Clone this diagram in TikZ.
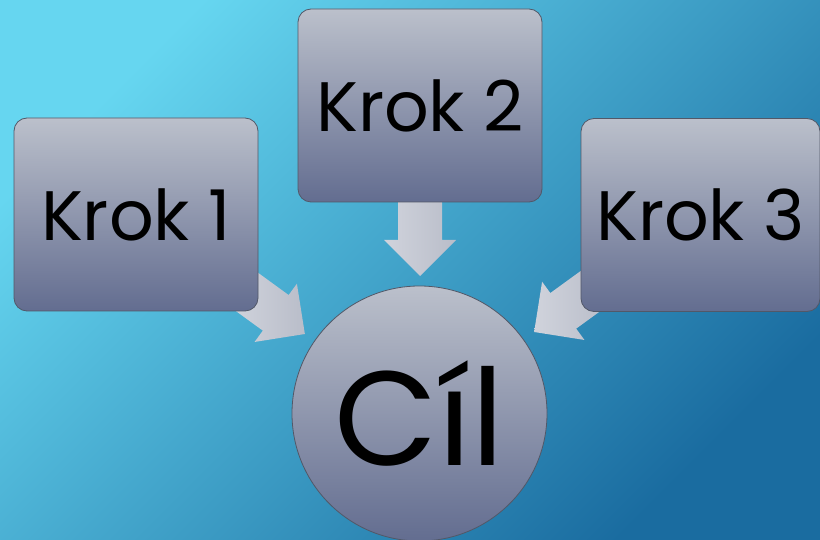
\documentclass[tikz,border=0pt]{standalone}
\usepackage{fontspec}
\setmainfont{Poppins}
\definecolor{bgA}{HTML}{66D6F0}
\definecolor{bgB}{HTML}{1A6CA0}
\definecolor{boxTop}{HTML}{BBC0CB}
\definecolor{boxBot}{HTML}{636D90}
\definecolor{boxLine}{HTML}{525868}
\definecolor{arrA}{HTML}{D0D3DC}
\definecolor{arrB}{HTML}{B9BDC9}
\tikzset{
  stepbox/.style={draw=boxLine, line width=0.8pt, rounded corners=13pt,
    top color=boxTop, bottom color=boxBot, minimum width=244pt, minimum height=193pt,
    inner sep=0pt, font=\fontsize{70}{70}\selectfont, text=black},
  goalnode/.style={circle, draw=boxLine, line width=0.8pt,
    top color=boxTop, bottom color=boxBot, minimum size=255pt, inner sep=0pt,
    font=\fontsize{134}{134}\selectfont, text=black},
  blockarrow/.style={fill=arrA, draw=none}
}
\newcommand\blockarr[3]{%
  \shade[left color=arrA, right color=arrB, shift={(#1)}, rotate=#2]
    (0,-22) -- (#3-36,-22) -- (#3-36,-36) -- (#3,0) -- (#3-36,36) -- (#3-36,22) -- (0,22) -- cycle;}
\begin{document}
\begin{tikzpicture}[x=1pt,y=1pt]
\useasboundingbox (0,0) rectangle (820,539);
\clip (0,0) rectangle (820,539);
\shade[top color=bgA, bottom color=bgB, shading angle=45] (0,0) rectangle (820,539);
% arrow anchor coordinates
\coordinate (a1) at (245,248.5);
\coordinate (a2) at (420,337);
\coordinate (a3) at (594,250.5);
\blockarr{a1}{-36}{74}
\blockarr{a2}{-90}{74}
\blockarr{a3}{216}{74}
\node[stepbox] (k1) at (136,324.5) {Krok 1};
\node[stepbox] (k2) at (420,433.5) {Krok 2};
\node[stepbox, minimum width=239pt] (k3) at (700.5,324) {Krok 3};
\node[goalnode] (cil) at (419.5,125.5) {Cíl};
\end{tikzpicture}
\end{document}
